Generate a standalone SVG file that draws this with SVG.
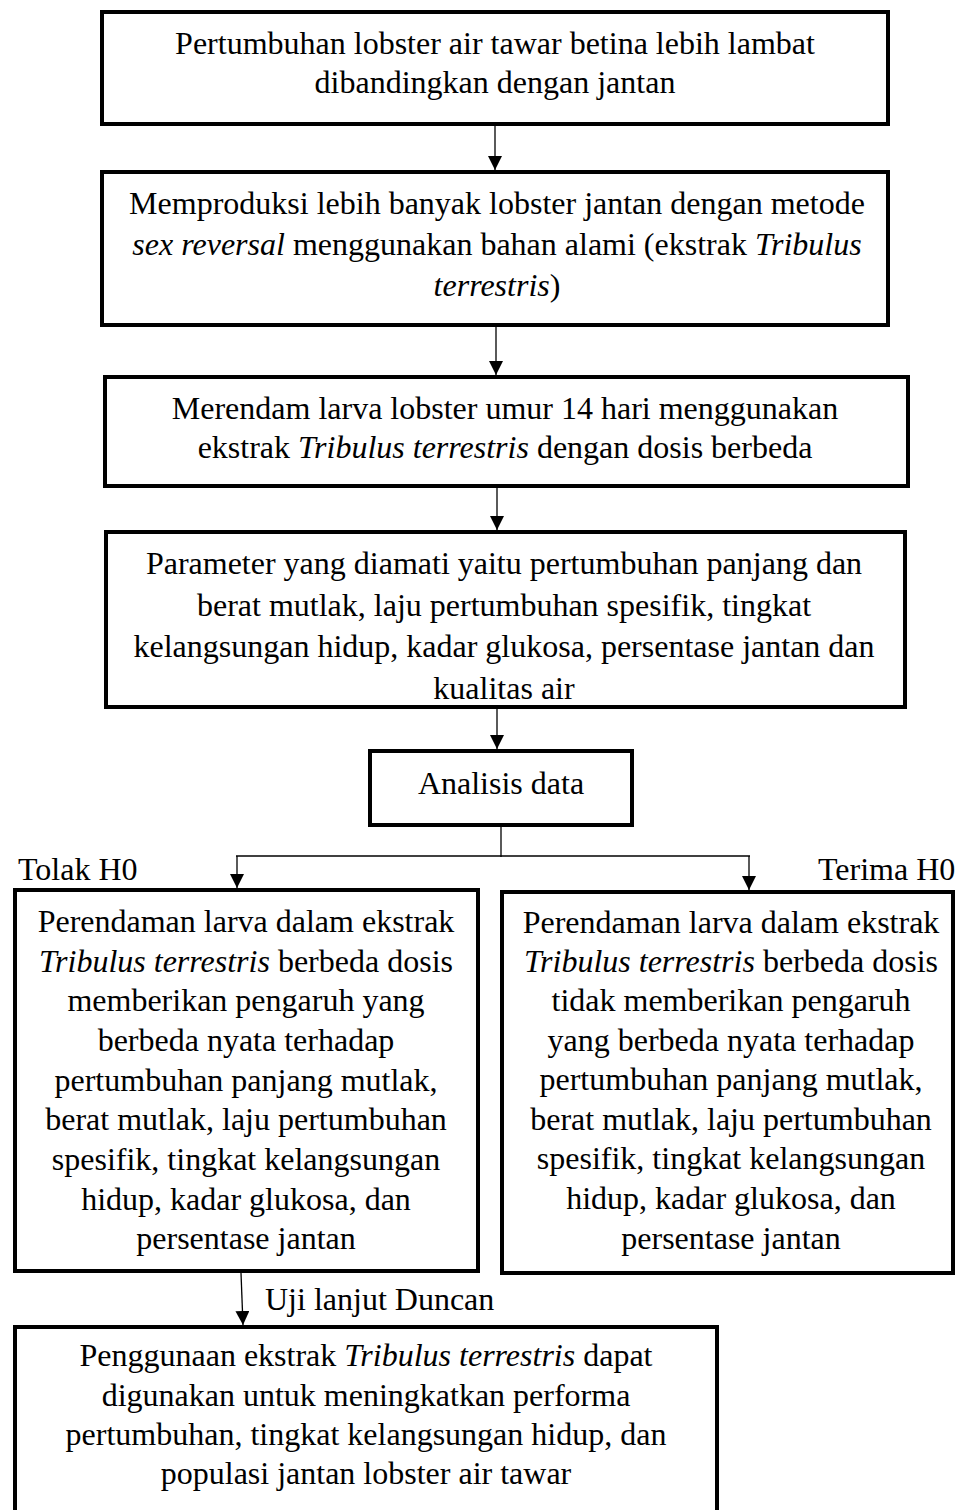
<svg xmlns="http://www.w3.org/2000/svg" width="956" height="1510" viewBox="0 0 956 1510">
<style>
.box{fill:#fff;stroke:#000;stroke-width:4}
.t{font-family:"Liberation Serif","Times New Roman",serif;font-size:32px;fill:#000;text-anchor:middle}
.l{font-family:"Liberation Serif","Times New Roman",serif;font-size:32px;fill:#000}
.c{stroke:#000;stroke-width:1.3;fill:none}
</style>
<defs>
<marker id="ah" viewBox="0 0 14 14" markerWidth="14" markerHeight="14" refX="14" refY="7" orient="auto" markerUnits="userSpaceOnUse">
<path d="M0,0 L14,7 L0,14 z" fill="#000"/>
</marker>
</defs>
<rect width="956" height="1510" fill="#fff"/>
<g id="n1">
<rect class="box" x="102" y="12" width="786" height="112"/>
<text class="t" x="495" y="54">Pertumbuhan lobster air tawar betina lebih lambat</text>
<text class="t" x="495" y="93">dibandingkan dengan jantan</text>
</g>
<g id="n2">
<rect class="box" x="102" y="172" width="786" height="153"/>
<text class="t" x="497" y="214">Memproduksi lebih banyak lobster jantan dengan metode</text>
<text class="t" x="497" y="255"><tspan font-style="italic">sex reversal</tspan> menggunakan bahan alami (ekstrak <tspan font-style="italic">Tribulus</tspan></text>
<text class="t" x="497" y="296"><tspan font-style="italic">terrestris</tspan>)</text>
</g>
<g id="n3">
<rect class="box" x="105" y="377" width="803" height="109"/>
<text class="t" x="505" y="419">Merendam larva lobster umur 14 hari menggunakan</text>
<text class="t" x="505" y="458">ekstrak <tspan font-style="italic">Tribulus terrestris</tspan> dengan dosis berbeda</text>
</g>
<g id="n4">
<rect class="box" x="106" y="532" width="799" height="175"/>
<text class="t" x="504" y="574">Parameter yang diamati yaitu pertumbuhan panjang dan</text>
<text class="t" x="504" y="616">berat mutlak, laju pertumbuhan spesifik, tingkat</text>
<text class="t" x="504" y="657">kelangsungan hidup, kadar glukosa, persentase jantan dan</text>
<text class="t" x="504" y="699">kualitas air</text>
</g>
<g id="n5">
<rect class="box" x="370" y="751" width="262" height="74"/>
<text class="t" x="501" y="794">Analisis data</text>
</g>
<g id="n6">
<rect class="box" x="15" y="890" width="463" height="381"/>
<text class="t" x="246" y="932">Perendaman larva dalam ekstrak</text>
<text class="t" x="246" y="972"><tspan font-style="italic">Tribulus terrestris</tspan> berbeda dosis</text>
<text class="t" x="246" y="1011">memberikan pengaruh yang</text>
<text class="t" x="246" y="1051">berbeda nyata terhadap</text>
<text class="t" x="246" y="1091">pertumbuhan panjang mutlak,</text>
<text class="t" x="246" y="1130">berat mutlak, laju pertumbuhan</text>
<text class="t" x="246" y="1170">spesifik, tingkat kelangsungan</text>
<text class="t" x="246" y="1210">hidup, kadar glukosa, dan</text>
<text class="t" x="246" y="1249">persentase jantan</text>
</g>
<g id="n7">
<rect class="box" x="502" y="892" width="451" height="381"/>
<text class="t" x="731" y="933">Perendaman larva dalam ekstrak</text>
<text class="t" x="731" y="972"><tspan font-style="italic">Tribulus terrestris</tspan> berbeda dosis</text>
<text class="t" x="731" y="1011">tidak memberikan pengaruh</text>
<text class="t" x="731" y="1051">yang berbeda nyata terhadap</text>
<text class="t" x="731" y="1090">pertumbuhan panjang mutlak,</text>
<text class="t" x="731" y="1130">berat mutlak, laju pertumbuhan</text>
<text class="t" x="731" y="1169">spesifik, tingkat kelangsungan</text>
<text class="t" x="731" y="1209">hidup, kadar glukosa, dan</text>
<text class="t" x="731" y="1249">persentase jantan</text>
</g>
<g id="n8">
<rect class="box" x="15" y="1327" width="702" height="220"/>
<text class="t" x="366" y="1366">Penggunaan ekstrak <tspan font-style="italic">Tribulus terrestris</tspan> dapat</text>
<text class="t" x="366" y="1406">digunakan untuk meningkatkan performa</text>
<text class="t" x="366" y="1445">pertumbuhan, tingkat kelangsungan hidup, dan</text>
<text class="t" x="366" y="1484">populasi jantan lobster air tawar</text>
</g>
<g id="labels">
<text class="l" x="18" y="880">Tolak H0</text>
<text class="l" x="818" y="880">Terima H0</text>
<text class="l" x="265" y="1310">Uji lanjut Duncan</text>
</g>
<g id="connectors">
<line class="c" x1="495" y1="126" x2="495" y2="170" marker-end="url(#ah)"/>
<line class="c" x1="496" y1="327" x2="496" y2="375" marker-end="url(#ah)"/>
<line class="c" x1="497" y1="488" x2="497" y2="530" marker-end="url(#ah)"/>
<line class="c" x1="497" y1="709" x2="497" y2="749" marker-end="url(#ah)"/>
<line class="c" x1="501" y1="827" x2="501" y2="857"/>
<line class="c" x1="236" y1="856" x2="750" y2="856"/>
<line class="c" x1="237" y1="856" x2="237" y2="888" marker-end="url(#ah)"/>
<line class="c" x1="749" y1="856" x2="749" y2="890" marker-end="url(#ah)"/>
<line class="c" x1="241" y1="1273" x2="243" y2="1325" marker-end="url(#ah)"/>
</g>
</svg>
